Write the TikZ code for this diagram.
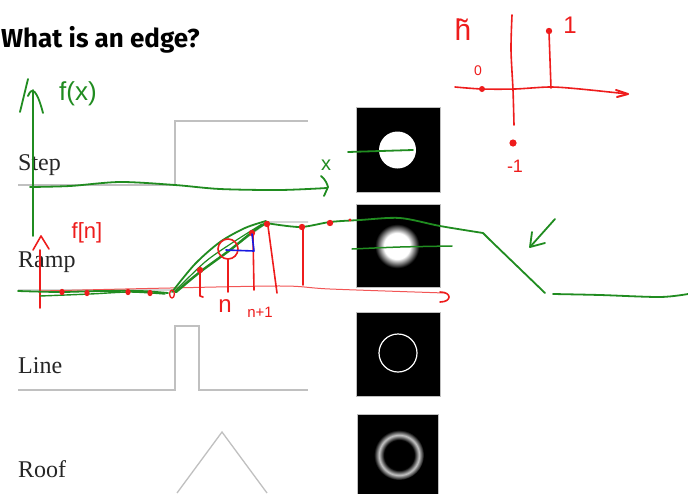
\documentclass[tikz,border=0pt]{standalone}
\usepackage{fontspec}
\setmainfont{Liberation Serif}
\newfontfamily\titlefont{Fira Sans}
\newfontfamily\handfont{Liberation Sans}
\definecolor{hgreen}{RGB}{32,140,32}
\definecolor{hred}{RGB}{238,28,28}
\definecolor{hblue}{RGB}{25,25,225}
\definecolor{sig}{RGB}{192,192,192}
\pgfdeclareradialshading{blurdisc}{\pgfpoint{0bp}{0bp}}{color(0bp)=(white); color(13bp)=(white); color(22bp)=(black); color(50bp)=(black)}
\pgfdeclareradialshading{blurring}{\pgfpoint{0bp}{0bp}}{color(0bp)=(black); color(15bp)=(black); color(20bp)=(white!78!black); color(25bp)=(black); color(50bp)=(black)}
\tikzset{
  sigline/.style={draw=sig, line width=1.3pt},
  gstroke/.style={draw=hgreen, line width=1.8pt, line cap=round, line join=round},
  rstroke/.style={draw=hred, line width=1.6pt, line cap=round, line join=round},
  rthin/.style={draw=hred!75, line width=1pt, line cap=round},
  bstroke/.style={draw=hblue, line width=1.6pt, line cap=round, line join=round},
  rdot/.style={fill=hred},
  lbl/.style={anchor=base west, inner sep=0pt, text=black!85, font=\fontsize{24}{28}\selectfont},
  img/.style={fill=black, draw=black!25, line width=0.8pt},
  hand/.style={inner sep=0pt, font=\handfont\fontsize{#1}{#1}\selectfont},
}
\begin{document}
\begin{tikzpicture}[x=1pt,y=-1pt]
\fill[white] (0,0) rectangle (688,493);
\useasboundingbox (0,0) rectangle (688,493);

% title
\node[anchor=base west, inner sep=0pt, font=\titlefont\bfseries\fontsize{26}{30}\selectfont] (title) at (1,47) {What is an edge?};

% signal profiles
\draw[sigline] (18,185) -- (175,185) -- (175,121) -- (308,121);
\draw[sigline] (18,290) -- (175,290) -- (268,222) -- (308,222);
\draw[sigline] (18,390) -- (175,390) -- (175,326) -- (199,326) -- (199,390) -- (308,390);
\draw[sigline] (177,493) -- (222,432) -- (267,493);

\node[lbl] (step) at (18,170) {Step};
\node[lbl] (ramp) at (18,267) {Ramp};
\node[lbl] (line) at (18,373) {Line};
\node[lbl] (roof) at (18,477) {Roof};

% images
\filldraw[img] (356,107) rectangle (440,192);
\fill[white] (397.5,150) circle (18.5);
\filldraw[img] (356,204) rectangle (440,287);
\shade[shading=blurdisc] (397,246) circle (25);
\filldraw[img] (356,312) rectangle (440,396);
\draw[white, line width=1.2pt] (398,353) circle (19);
\filldraw[img] (357,414) rectangle (438,496);
\shade[shading=blurring] (399,455) circle (25);

% green f(x) axis
\draw[gstroke] (33,236) -- (33,90);
\draw[gstroke] (20,112) -- (28,79);
\draw[gstroke] (28,96) .. controls (32,86) and (37,90) .. (43,113);
\node[hand=26, text=hgreen] (fx) at (78,94) {f(x)};
\draw[gstroke] plot[smooth] coordinates {(30,187) (70,186) (120,182) (175,185) (220,189) (280,190) (327,188)};
\draw[gstroke] (321,176) .. controls (326,180) and (327,184) .. (328,187) -- (324,196);
\node[hand=20, text=hgreen] (xl) at (326,165) {x};
\draw[gstroke] (348,152) -- (413,150);

% red ramp annotations
\draw[rthin] plot[smooth] coordinates {(40,291) (170,288) (283,286) (330,289) (445,293)};
\draw[rstroke] (440,292) .. controls (452,292) and (452,302) .. (440,302);
\draw[rstroke] (40,250) -- (40,308);
\draw[rstroke] (33,250) -- (41,236) -- (49,249);
\node[hand=22, text=hred] (fn) at (87,233) {f[n]};

% green ramp strokes
\draw[gstroke] plot[smooth] coordinates {(18,291) (60,292) (100,291) (140,291) (168,293)};
\draw[gstroke, line width=1.4pt] plot[smooth] coordinates {(40,296) (90,294) (130,292) (165,294)};
\draw[gstroke] plot[smooth] coordinates {(172,292) (195,264) (220,242) (245,228) (266,221)};
\draw[gstroke, line width=2.4pt] plot[smooth] coordinates {(176,292) (200,272) (230,250) (255,230) (268,222)};
\draw[gstroke, line width=1.2pt] plot[smooth] coordinates {(174,292) (205,262) (232,243) (262,224)};
\draw[gstroke] plot[smooth] coordinates {(266,223) (300,227) (330,222) (360,220) (400,218) (440,226) (483,233)} -- (490,240) -- (545,293);
\draw[gstroke] plot[smooth] coordinates {(553,294) (600,295) (660,297) (688,294)};
\draw[gstroke, line width=1.5pt] plot[smooth] coordinates {(352,249) (400,247) (452,246)};
\draw[gstroke] (555,219) -- (530,247);
\draw[gstroke] (532,232) -- (530,247) -- (545,243);

% red samples
\foreach \p in {(62,292),(87,293),(128,292),(150,293)} \fill[rdot] \p ellipse (2.6 and 3.2);
\draw[rstroke, line width=1.3pt] (172,294) ellipse (2.4 and 4);
\foreach \p in {(200,270),(252,233),(267,224),(302,227),(330,223)} \fill[rdot] \p circle (3.2);
\fill[rdot] (350,220) circle (1.6);
\draw[rstroke] (228,249) circle (10);
\draw[rstroke] (200,272) -- (200,296) -- (203,297);
\draw[rstroke] (228,259) -- (228,292);
\draw[rstroke] (253,235) -- (254,290);
\draw[rstroke] (268,226) -- (277,293);
\draw[rstroke] (303,229) -- (303,285);
\node[hand=24, text=hred] (nl) at (225,306) {n};
\node[hand=15, text=hred] (n1) at (260,312) {n+1};
\draw[bstroke] (226,250) -- (254,251) -- (252,234);

% red filter plot h~
\draw[rstroke] plot[smooth] coordinates {(512,15) (511,50) (513,90) (514,125)};
\fill[rdot] (513,143) circle (3.6);
\draw[rstroke] plot[smooth] coordinates {(455,87) (482,89) (515,89) (550,87) (580,89) (628,94)};
\draw[rstroke, line width=2pt] (616,90) -- (628,94) -- (617,97);
\fill[rdot] (482,89) circle (3);
\draw[rstroke] (551,88) -- (549,32);
\fill[rdot] (549,31) circle (3.2);
\node[hand=14, text=hred] (z) at (478,71) {0};
\node[hand=24, text=hred] (one) at (570,25) {1};
\node[hand=18, text=hred] (mone) at (515,166) {-1};
\node[hand=30, text=hred] (ht) at (463,30) {\~{h}};
\end{tikzpicture}
\end{document}
